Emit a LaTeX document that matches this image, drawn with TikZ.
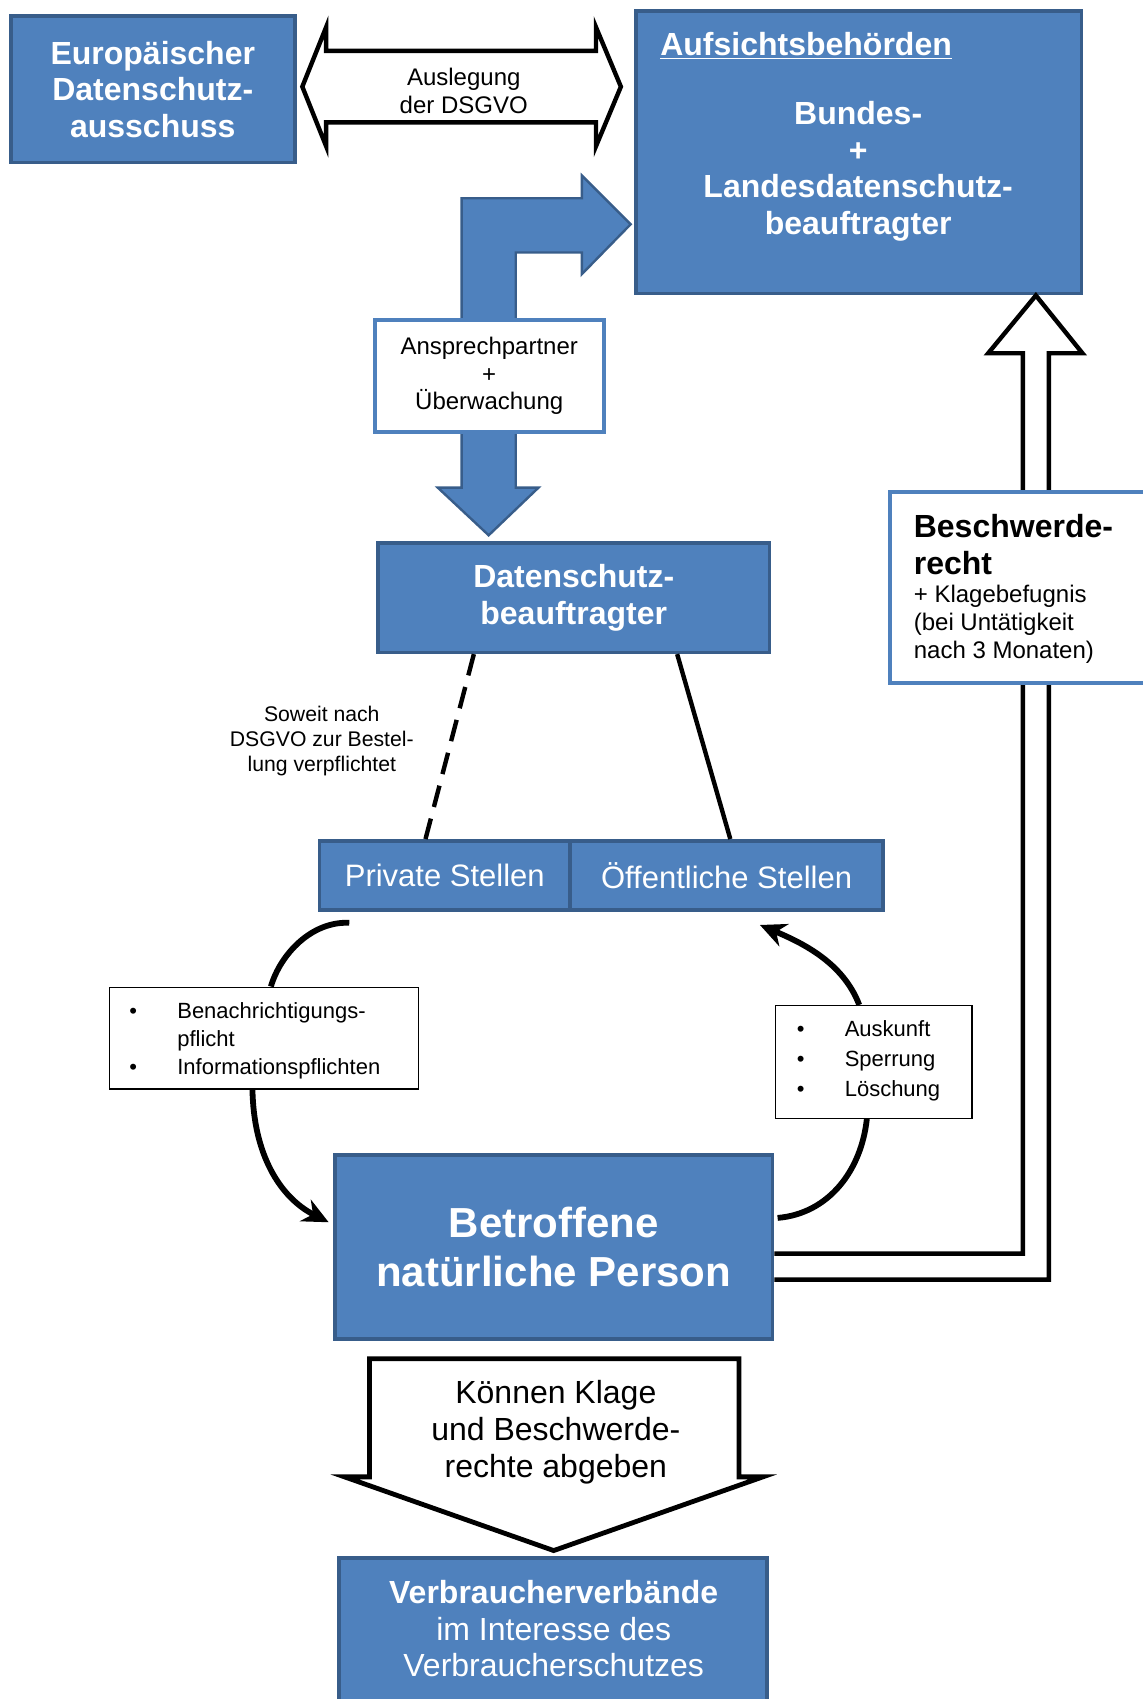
\documentclass[tikz,border=0pt]{standalone}
\usepackage{fontspec}
\setmainfont{Liberation Sans}
\usepackage{tikz}
\usetikzlibrary{arrows.meta,calc}
\definecolor{dsgvoblau}{HTML}{4F81BD}
\definecolor{dsgvorand}{HTML}{385D8A}
\newcommand{\schriftgross}{\fontsize{16}{18.4}\selectfont}
\newcommand{\schriftmittel}{\fontsize{12}{13.8}\selectfont}
\newcommand{\schriftklein}{\fontsize{11}{14}\selectfont}

\begin{document}
\begin{tikzpicture}[x=0.54175pt, y=-0.54175pt,
		groesse/.style 2 args={minimum width=#1*0.54175pt, minimum height=#2*0.54175pt},
		bluebox/.style={draw=dsgvorand, fill=dsgvoblau, line width=1.8pt, text=white, align=center, inner sep=0pt},
		weissbox/.style={draw=dsgvoblau, fill=white, line width=2pt, align=center, inner sep=0pt},
		listbox/.style={draw=black, fill=white, line width=0.6pt, inner sep=0pt},
		blockpfeil/.style={draw=black, fill=white, line width=2.2pt, line join=miter},
		bogen/.style={line width=2.9pt},
		bogenpfeil/.style={line width=2.9pt, -{Stealth[length=13pt, width=12pt]}}]
		\useasboundingbox (0,0) rectangle (1054,1568);
		\node[bluebox, groesse={262}{135}, font=\schriftgross\bfseries] (edsa) at (141,82.5) {Europäischer\\Datenschutz-\\ausschuss};
		\node[bluebox, groesse={411}{261}] (aufsicht) at (792.5,140.5) {};
		\node[anchor=base west, text=white, inner sep=0pt, font=\schriftgross\bfseries] (aufsichttitel) at (609,51) {\underline{Aufsichtsbehörden}};
		\node[text=white, align=center, font=\schriftgross\bfseries] (aufsichttext) at (792,158) {Bundes-\\+\\Landesdatenschutz-\\beauftragter};
		\draw[blockpfeil] (279,80) -- (301,25) -- (301,47) -- (550,47) -- (550,25) -- (573,80) -- (550,135) -- (550,113) -- (301,113) -- (301,135) -- cycle;
		\node[align=center, font=\schriftmittel] (auslegung) at (428,84) {Auslegung\\der DSGVO};
		\draw[draw=dsgvorand, fill=dsgvoblau, line width=1.2pt, line join=miter] (451,494) -- (404,450) -- (426,450) -- (426,183) -- (537,183) -- (537,162) -- (582,207) -- (537,253) -- (537,233) -- (476,233) -- (476,450) -- (497,450) -- cycle;
		\node[weissbox, groesse={211}{104}, font=\schriftmittel] (ansprech) at (451.5,347) {Ansprechpartner\\+\\Überwachung};
		\node[bluebox, groesse={361}{101}, font=\schriftgross\bfseries] (dsb) at (529.5,551.5) {Datenschutz-\\beauftragter};
		\node[bluebox, groesse={231}{64}, font=\fontsize{15.5}{18}\selectfont] (privat) at (410.5,808) {Private Stellen};
		\node[bluebox, groesse={289}{64}, font=\fontsize{15.5}{18}\selectfont] (oeffentlich) at (670.5,808) {Öffentliche Stellen};
		\draw[line width=2.2pt, dash pattern=on 11pt off 6pt] ($(dsb.south west)!0.247!(dsb.south east)$) -- ($(privat.north west)!0.424!(privat.north east)$);
		\draw[line width=2.2pt] ($(dsb.south west)!0.762!(dsb.south east)$) -- ($(oeffentlich.north west)!0.512!(oeffentlich.north east)$);
		\node[align=center, font=\fontsize{10.6}{12.5}\selectfont] (soweit) at (297,684) {Soweit nach\\DSGVO zur Bestel-\\lung verpflichtet};
		\node[bluebox, groesse={404}{170}, font=\fontsize{21}{24.4}\selectfont\bfseries] (betroffene) at (511,1151) {Betroffene\\natürliche Person};
		\draw[line width=2.2pt, line join=miter] (betroffene.east |- 0,1157) -- (944,1157) -- (944,326) -- (912,326) -- (aufsicht.south -| 956,0) -- (999,326) -- (968,326) -- (968,1181) -- (betroffene.east |- 0,1181);
		\node[weissbox, groesse={250}{176}] (beschwerde) at (946,542) {};
		\node[anchor=north west, align=left, inner sep=0pt, font=\schriftgross\bfseries] (beschwerdetitel) at (843,474) {Beschwerde-\\recht};
		\node[anchor=north west, align=left, inner sep=0pt, font=\schriftmittel] (beschwerdetext) at (843,540) {+ Klagebefugnis\\(bei Untätigkeit\\nach 3 Monaten)};
		\node[listbox, groesse={285}{94}] (benach) at (243.5,958) {};
		\node[anchor=west, inner sep=0pt, font=\schriftklein] (benachtext) at (119,961) {\begin{tabular}{@{}p{24pt}@{}l@{}}\textbullet & Benachrichtigungs-\\ & pflicht\\ \textbullet & Informationspflichten\end{tabular}};
		\node[listbox, groesse={181}{104}] (auskunft) at (806.5,980) {};
		\node[anchor=west, inner sep=0pt, font=\fontsize{11}{15}\selectfont] (auskunfttext) at (735,979) {\begin{tabular}{@{}p{24pt}@{}l@{}}\textbullet & Auskunft\\ \textbullet & Sperrung\\ \textbullet & Löschung\end{tabular}};
		\draw[bogen] ($(privat.south west)+(29,10)$) .. controls (288,850) and (259,880) .. (benach.north -| 250,0);
		\draw[bogenpfeil] (benach.south -| 233,0) .. controls (234,1065) and (258,1105) .. ($(betroffene.west)+(-4,-23)$);
		\draw[bogen] ($(betroffene.east)+(3,-27)$) .. controls (765,1120) and (795,1080) .. (auskunft.south -| 800,0);
		\draw[bogenpfeil] (auskunft.north -| 793,0) .. controls (778,888) and (740,870) .. ($(oeffentlich.south west)+(177,12)$);
		\draw[blockpfeil, line width=2.4pt] (341,1254) -- (682,1254) -- (682,1363) -- (704,1363) -- (511,1431) -- (318,1363) -- (341,1363) -- cycle;
		\node[align=center, font=\schriftgross] (klage) at (513,1322) {Können Klage\\und Beschwerde-\\rechte abgeben};
		\node[bluebox, groesse={395}{150}] (verband) at (510.5,1513) {};
		\node[text=white, align=center, font=\schriftgross] (verbandtext) at (511,1503) {\textbf{Verbraucherverbände}\\im Interesse des\\Verbraucherschutzes};
	\end{tikzpicture}
\end{document}
